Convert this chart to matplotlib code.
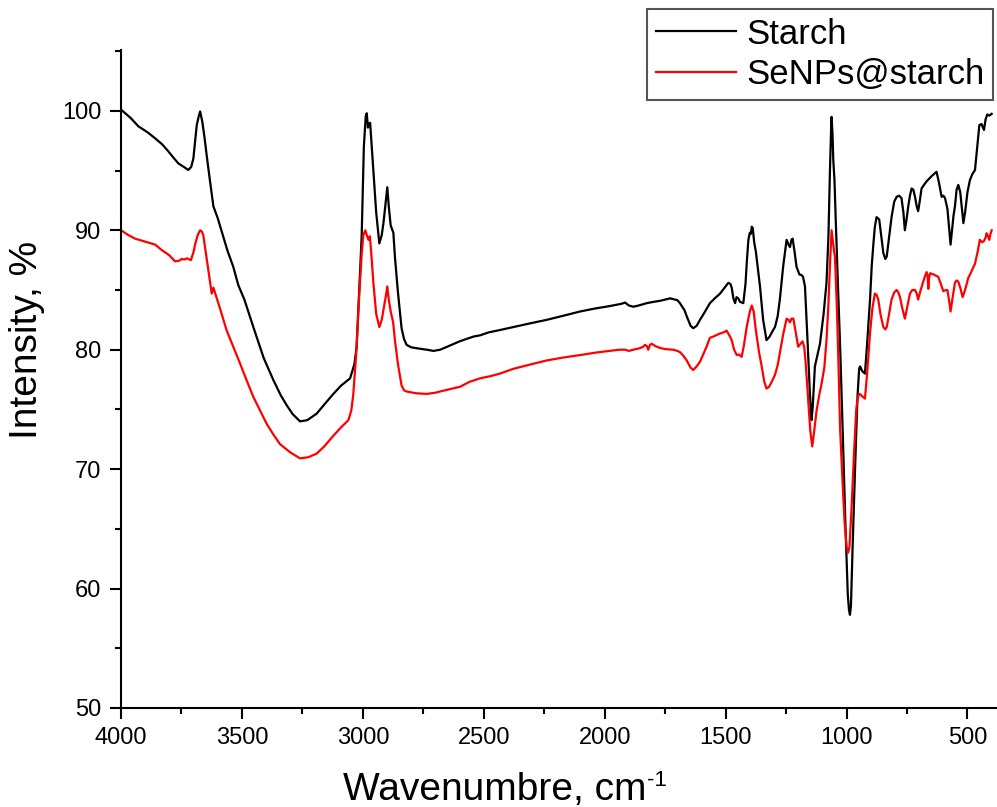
'''
FTIR spectra of starch and starch-capped selenium nanoparticles (SeNPs@starch)
'''

import matplotlib
matplotlib.use('Agg')
import matplotlib.pyplot as plt
from matplotlib.ticker import MultipleLocator

starch_wn = [4000, 3960, 3928, 3890, 3859, 3830, 3804, 3780, 3763, 3740, 3722, 3710, 3701, 3692, 3687,
             3678, 3673, 3668, 3664, 3655, 3646, 3632, 3618, 3600, 3560, 3536, 3515, 3490, 3453, 3410,
             3370, 3340, 3315, 3290, 3260, 3230, 3191, 3160, 3122, 3090, 3053, 3035, 3026, 3015, 3005,
             2996, 2988, 2984, 2979, 2975, 2970, 2965, 2957, 2945, 2932, 2922, 2915, 2905, 2899, 2893,
             2885, 2874, 2867, 2855, 2840, 2830, 2819, 2800, 2770, 2736, 2708, 2680, 2640, 2600, 2543,
             2516, 2480, 2433, 2378, 2310, 2240, 2170, 2102, 2040, 1980, 1930, 1916, 1900, 1882, 1860,
             1826, 1800, 1770, 1730, 1700, 1689, 1670, 1661, 1645, 1634, 1620, 1606, 1585, 1565, 1545,
             1523, 1500, 1489, 1480, 1475, 1468, 1461, 1455, 1448, 1440, 1427, 1418, 1412, 1406, 1400,
             1396, 1392, 1388, 1382, 1375, 1358, 1345, 1331, 1318, 1305, 1296, 1285, 1276, 1262, 1248,
             1240, 1234, 1228, 1223, 1215, 1207, 1195, 1186, 1180, 1172, 1162, 1152, 1145, 1140, 1131,
             1120, 1110, 1095, 1083, 1075, 1069, 1064, 1062, 1058, 1055, 1050, 1045, 1035, 1027, 1015,
             1005, 995, 990, 986, 982, 975, 965, 955, 948, 944, 935, 924, 915, 903, 896,
             889, 883, 876, 870, 865, 857, 848, 840, 834, 825, 814, 803, 793, 783, 773,
             765, 759, 752, 745, 738, 731, 724, 717, 710, 704, 697, 690, 680, 669, 650,
             628, 618, 607, 600, 593, 583, 576, 570, 565, 558, 552, 545, 538, 530, 524,
             517, 510, 500, 490, 480, 469, 460, 451, 442, 432, 425, 418, 410, 400]
starch_int = [100.1, 99.4, 98.7, 98.2, 97.7, 97.2, 96.6, 96.0, 95.6, 95.3, 95.05, 95.3, 96.0, 97.8, 98.8,
              99.6, 99.95, 99.5, 99.1, 97.8, 96.3, 94.1, 92.0, 91.0, 88.3, 86.95, 85.4, 84.2, 81.9, 79.3,
              77.45, 76.2, 75.35, 74.6, 74.0, 74.1, 74.65, 75.4, 76.3, 77.0, 77.6, 78.8, 80.2, 85.0, 89.5,
              97.0, 99.6, 99.8, 98.6, 98.9, 99.0, 97.5, 95.0, 91.5, 88.9, 89.6, 90.6, 92.5, 93.6, 92.0,
              90.4, 89.8, 87.65, 84.8, 81.8, 80.9, 80.4, 80.2, 80.1, 80.0, 79.9, 80.0, 80.35, 80.7, 81.1,
              81.2, 81.45, 81.65, 81.9, 82.2, 82.5, 82.85, 83.2, 83.45, 83.65, 83.85, 83.95, 83.7, 83.6, 83.7,
              83.9, 84.0, 84.1, 84.3, 84.15, 83.9, 83.3, 82.8, 82.0, 81.8, 82.0, 82.5, 83.2, 83.9, 84.3,
              84.7, 85.3, 85.6, 85.5, 85.2, 84.3, 83.9, 84.4, 84.3, 84.0, 83.9, 85.5, 87.5, 89.2, 89.8,
              89.7, 90.3, 90.2, 89.0, 88.2, 85.3, 82.5, 80.8, 81.1, 81.6, 81.9, 82.8, 84.2, 87.0, 89.2,
              88.8, 88.6, 89.2, 89.3, 88.2, 86.95, 86.3, 86.25, 86.1, 85.3, 81.0, 76.5, 74.1, 75.2, 78.6,
              79.6, 80.5, 83.0, 85.6, 89.5, 94.8, 98.5, 99.5, 98.0, 95.9, 94.2, 91.0, 85.0, 80.5, 72.5,
              65.5, 59.5, 58.2, 57.8, 58.5, 63.5, 70.0, 76.0, 78.4, 78.6, 78.2, 78.0, 80.5, 84.2, 87.0,
              88.9, 90.3, 91.1, 91.0, 90.9, 89.6, 88.1, 87.6, 87.8, 89.3, 91.1, 92.4, 92.8, 92.9, 92.7,
              91.5, 90.0, 90.9, 92.0, 92.9, 93.5, 93.4, 92.8, 92.0, 91.6, 92.5, 93.5, 93.8, 94.1, 94.5,
              94.9, 94.0, 92.8, 92.9, 92.7, 91.8, 90.2, 88.8, 89.8, 91.2, 92.0, 93.4, 93.8, 93.2, 92.0,
              90.6, 91.5, 93.2, 94.2, 94.7, 95.05, 96.9, 98.8, 98.9, 98.4, 99.3, 99.7, 99.6, 99.75]

senps_wn = [4000, 3970, 3942, 3901, 3859, 3832, 3800, 3777, 3760, 3749, 3738, 3728, 3711, 3700, 3694,
            3683, 3673, 3666, 3660, 3646, 3625, 3618, 3590, 3563, 3535, 3508, 3480, 3453, 3425, 3398,
            3370, 3343, 3300, 3260, 3225, 3191, 3160, 3122, 3090, 3060, 3048, 3040, 3028, 3015, 3005,
            2998, 2990, 2984, 2977, 2971, 2965, 2957, 2945, 2932, 2922, 2916, 2905, 2899, 2893, 2885,
            2875, 2867, 2855, 2840, 2830, 2819, 2780, 2736, 2700, 2681, 2640, 2598, 2560, 2516, 2470,
            2433, 2378, 2310, 2240, 2170, 2102, 2040, 1980, 1940, 1916, 1900, 1882, 1860, 1845, 1833,
            1826, 1820, 1813, 1806, 1790, 1772, 1750, 1717, 1700, 1689, 1675, 1661, 1645, 1634, 1620,
            1606, 1580, 1565, 1551, 1530, 1503, 1496, 1482, 1475, 1465, 1454, 1445, 1434, 1425, 1413,
            1400, 1392, 1384, 1375, 1362, 1351, 1340, 1331, 1320, 1305, 1296, 1285, 1276, 1262, 1248,
            1240, 1234, 1228, 1220, 1210, 1200, 1190, 1182, 1175, 1169, 1160, 1150, 1142, 1135, 1124,
            1113, 1103, 1092, 1083, 1075, 1069, 1064, 1062, 1058, 1052, 1048, 1040, 1033, 1027, 1018,
            1008, 1000, 994, 988, 980, 970, 960, 955, 950, 945, 935, 924, 915, 903, 893,
            883, 876, 869, 860, 848, 840, 834, 824, 814, 803, 793, 786, 779, 770, 759,
            750, 738, 728, 717, 710, 704, 695, 683, 675, 669, 665, 662, 659, 655, 640,
            621, 610, 600, 590, 583, 576, 570, 562, 552, 545, 538, 530, 520, 510, 497,
            485, 469, 458, 449, 440, 432, 425, 421, 415, 410, 405, 400]
senps_int = [90.0, 89.6, 89.3, 89.05, 88.8, 88.35, 87.9, 87.4, 87.45, 87.6, 87.55, 87.65, 87.5, 88.2, 88.8,
             89.6, 90.0, 89.9, 89.6, 87.65, 84.7, 85.2, 83.4, 81.6, 80.2, 78.85, 77.4, 76.05, 74.9, 73.8,
             72.9, 72.1, 71.4, 70.9, 71.0, 71.3, 71.9, 72.8, 73.5, 74.1, 74.9, 76.2, 79.5, 84.6, 88.0,
             89.6, 90.0, 89.6, 89.2, 89.5, 88.0, 85.7, 83.0, 81.9, 82.5, 83.2, 84.5, 85.3, 84.2, 83.2,
             82.3, 80.7, 78.8, 77.0, 76.6, 76.5, 76.35, 76.3, 76.4, 76.5, 76.7, 76.9, 77.3, 77.6, 77.8,
             78.0, 78.4, 78.75, 79.1, 79.35, 79.55, 79.75, 79.9, 80.0, 80.0, 79.9, 80.0, 80.1, 80.2, 80.4,
             80.3, 80.0, 80.4, 80.5, 80.3, 80.15, 80.05, 80.0, 79.9, 79.8, 79.5, 79.1, 78.5, 78.3, 78.6,
             79.0, 80.2, 81.0, 81.1, 81.3, 81.5, 81.6, 81.1, 80.8, 80.0, 79.55, 79.6, 79.4, 80.3, 81.9,
             83.2, 83.7, 83.2, 81.6, 79.8, 78.6, 77.3, 76.75, 76.9, 77.5, 77.9, 78.7, 79.7, 81.3, 82.6,
             82.5, 82.3, 82.6, 82.6, 81.4, 80.25, 80.5, 80.7, 80.2, 78.85, 76.2, 73.2, 71.9, 73.0, 74.9,
             76.2, 77.2, 78.5, 80.8, 83.8, 86.95, 89.2, 90.0, 89.3, 88.3, 87.8, 83.5, 78.5, 73.5, 69.5,
             65.5, 63.5, 63.0, 63.5, 66.5, 71.0, 75.0, 75.8, 76.2, 76.3, 76.1, 75.9, 78.0, 81.4, 83.5,
             84.7, 84.6, 84.2, 83.0, 81.9, 81.7, 81.9, 83.0, 84.2, 84.8, 85.0, 84.8, 84.4, 83.5, 82.6,
             83.5, 84.7, 85.0, 85.0, 84.7, 84.2, 84.9, 85.7, 86.2, 86.5, 86.2, 85.1, 86.0, 86.4, 86.3,
             86.1, 85.5, 84.9, 85.0, 85.0, 84.1, 83.2, 84.3, 85.6, 85.8, 85.7, 85.2, 84.4, 85.0, 86.0,
             86.5, 87.2, 88.2, 89.2, 89.0, 89.1, 89.4, 89.75, 89.5, 89.2, 89.7, 90.0]

# legend labels and axis labels
labels = ['Starch', 'SeNPs@starch']
x_label = 'Wavenumbre, cm'
x_label_sup = '-1'
y_label = 'Intensity, %'


def create_spectra_plot():

    '''
    Plot both FTIR spectra on a reversed wavenumber axis and save the figure as out.png
    '''

    plt.rcParams['font.family'] = ['Liberation Sans', 'DejaVu Sans']

    fig = plt.figure(figsize=(9.97, 8.07), dpi=100)
    ax = fig.add_axes([0.1214, 0.1227, 0.8786, 0.8154])

    # draw the two spectra
    ax.plot(starch_wn, starch_int, color='black', linewidth=1.6, label=labels[0])
    ax.plot(senps_wn, senps_int, color='#ff0000', linewidth=1.6, label=labels[1])

    # reversed x axis, as usual for IR spectra
    ax.set_xlim(4000, 378)
    ax.set_ylim(50, 105.1)

    ax.xaxis.set_major_locator(MultipleLocator(500))
    ax.xaxis.set_minor_locator(MultipleLocator(250))
    ax.yaxis.set_major_locator(MultipleLocator(10))
    ax.yaxis.set_minor_locator(MultipleLocator(5))

    ax.tick_params(which='major', direction='out', length=8, width=1.5, labelsize=17, pad=6)
    ax.tick_params(which='minor', direction='out', length=4, width=1.5)

    # only the left and bottom spines are shown
    ax.spines['top'].set_visible(False)
    ax.spines['right'].set_visible(False)
    ax.spines['left'].set_linewidth(1.5)
    ax.spines['bottom'].set_linewidth(1.5)

    # axis labels placed by hand (superscript drawn as its own small text to keep the hyphen)
    fig.text(343 / 997, 1 - 800 / 807, x_label, fontsize=28, ha='left', va='baseline')
    fig.text(647 / 997, 1 - 786 / 807, x_label_sup, fontsize=16, ha='left', va='baseline')
    fig.text(27 / 997, 1 - 340 / 807, y_label, fontsize=28, ha='center', va='center', rotation=90)

    # legend in the top right corner, partly above the axes
    leg = fig.legend(loc='upper right', bbox_to_anchor=(0.996, 0.989), fontsize=25,
                     frameon=True, fancybox=False, edgecolor='#555555', framealpha=1,
                     handlelength=2.3, handletextpad=0.3, borderpad=0.25, labelspacing=0.22,
                     borderaxespad=0)
    leg.get_frame().set_linewidth(1.5)

    plt.savefig('out.png', dpi=100)


def main():

    # create the figure and save it
    create_spectra_plot()


if __name__ == '__main__':
    main()
